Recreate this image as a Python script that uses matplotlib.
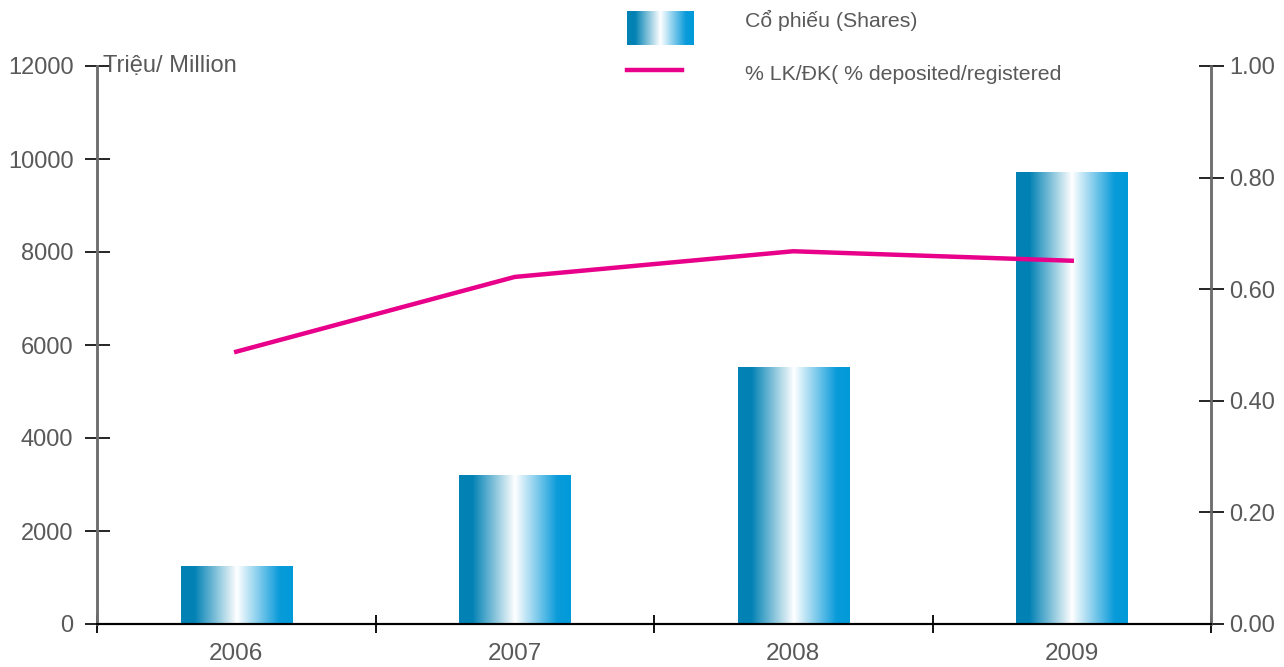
import numpy as np
import matplotlib.pyplot as plt
from matplotlib.colors import LinearSegmentedColormap

plt.rcParams["font.family"] = ["Liberation Sans", "DejaVu Sans"]

years = ["2006", "2007", "2008", "2009"]
shares = [1230, 3200, 5520, 9720]
pct_deposited = [0.488, 0.622, 0.668, 0.651]
left_ticks = [0, 2000, 4000, 6000, 8000, 10000, 12000]
right_ticks = [0.0, 0.2, 0.4, 0.6, 0.8, 1.0]

bar_cmap = LinearSegmentedColormap.from_list(
    "barfade",
    [(0.0, "#0282b4"), (0.12, "#0282b4"), (0.5, "#ffffff"),
     (0.88, "#0a9bda"), (1.0, "#009ad9")])
grad = np.linspace(0, 1, 256).reshape(1, -1)
text_col = "#595959"
spine_col = "#6e6e6e"

fig = plt.figure(figsize=(12.84, 6.67), dpi=100)
ax = fig.add_axes([97 / 1284, 1 - 624 / 667, (1211 - 97) / 1284, (624 - 66) / 667])
ax2 = ax.twinx()

x = np.arange(len(years))
w = 0.4
for xi, v in zip(x, shares):
    ax.imshow(grad, cmap=bar_cmap, aspect="auto", interpolation="bilinear",
              extent=(xi - w / 2, xi + w / 2, 0, v), zorder=2)

ax.set_xlim(-0.5, len(years) - 0.5)
ax.set_ylim(0, 12000)
ax.set_yticks(left_ticks)
ax.set_yticklabels([str(t) for t in left_ticks])
ax.set_xticks(x)
ax.set_xticklabels(years)
ax.set_xticks(np.arange(-0.5, len(years)), minor=True)
ax.tick_params(axis="x", which="major", length=0, pad=14, labelsize=17.5, labelcolor=text_col)
ax.tick_params(axis="x", which="minor", direction="inout", length=13, width=1.3, color="black")
ax.tick_params(axis="y", direction="inout", length=18, width=1.2, color="black",
               pad=8, labelsize=17, labelcolor=text_col)

ax2.plot(x, pct_deposited, color="#e8008b", lw=3.2, zorder=3)
ax2.set_ylim(0, 1)
ax2.set_yticks(right_ticks)
ax2.set_yticklabels([f"{t:.2f}" for t in right_ticks])
ax2.tick_params(axis="y", direction="inout", length=18, width=1.2, color="black",
                pad=4, labelsize=17, labelcolor=text_col)

for a in (ax, ax2):
    a.spines["top"].set_visible(False)
    a.spines["left"].set_color(spine_col)
    a.spines["right"].set_color(spine_col)
    a.spines["left"].set_linewidth(1.8)
    a.spines["right"].set_linewidth(1.8)
    a.spines["bottom"].set_linewidth(1.5)
    a.spines["bottom"].set_color("black")

ax.text(0.005, 1.0, "Triệu/ Million", transform=ax.transAxes, fontsize=17,
        color=text_col, va="center", ha="left")

# legend
lax = fig.add_axes([627 / 1284, 1 - 45 / 667, 67 / 1284, 34 / 667])
lax.imshow(grad, cmap=bar_cmap, aspect="auto", interpolation="bilinear")
lax.axis("off")
fig.add_artist(plt.Line2D([627 / 1284, 682 / 1284], [1 - 70 / 667, 1 - 70 / 667],
                          color="#e8008b", lw=3.2, transform=fig.transFigure))
fig.text(745 / 1284, 1 - 20 / 667, "Cổ phiếu (Shares)", fontsize=15.3,
         color=text_col, va="center")
fig.text(745 / 1284, 1 - 75 / 667, "% LK/ĐK( % deposited/registered", fontsize=15.3,
         color=text_col, va="center")

fig.savefig("out.png", dpi=100)
